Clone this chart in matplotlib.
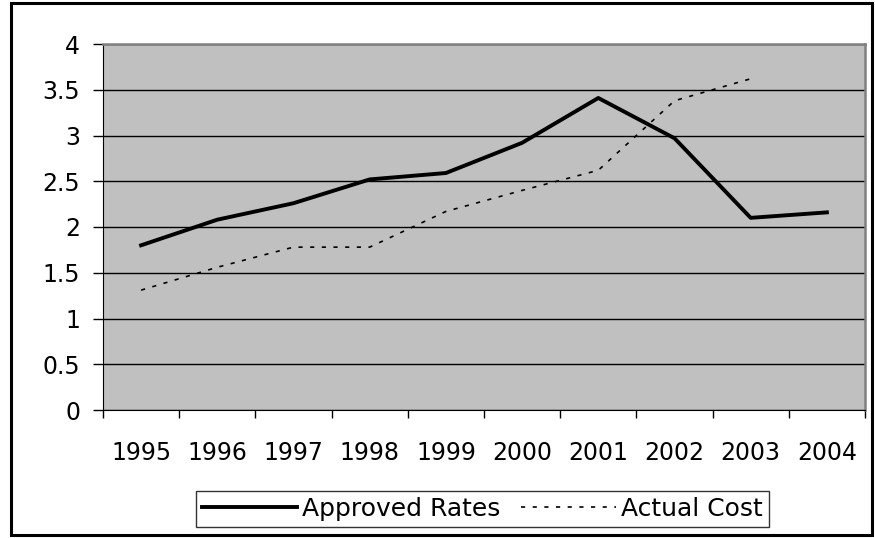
import matplotlib.pyplot as plt
from matplotlib.patches import Rectangle
import numpy as np

# 자료
years = ['1995', '1996', '1997', '1998', '1999', '2000', '2001', '2002', '2003', '2004']
approved_rates = [1.80, 2.08, 2.26, 2.52, 2.59, 2.92, 3.41, 2.97, 2.10, 2.16]
actual_cost = [1.31, 1.56, 1.78, 1.78, 2.17, 2.40, 2.62, 3.38, 3.62]
y_ticks = [0, 0.5, 1, 1.5, 2, 2.5, 3, 3.5, 4]

plt.rcParams['font.family'] = ['DejaVu Sans']

W, H = 875, 538
fig = plt.figure(figsize=(W / 100, H / 100), dpi=100)

# 바깥 테두리
fig.patches.append(Rectangle((11 / W, 3 / H), (872 - 11) / W, (535 - 3) / H,
                             transform=fig.transFigure, fill=False,
                             edgecolor='black', linewidth=2.2))

ax = fig.add_axes([103 / W, 1 - 410 / H, (865 - 103) / W, (410 - 44) / H])
ax.set_facecolor('#C0C0C0')

x = np.arange(len(years))
ax.plot(x, approved_rates, color='black', linewidth=2.8,
        label='Approved Rates', zorder=3)
ax.plot(x[:len(actual_cost)], actual_cost, color='black', linewidth=1.2,
        linestyle=(0, (2.5, 4.5)), label='Actual Cost', zorder=3)

ax.set_xlim(-0.5, len(years) - 0.5)
ax.set_ylim(0, 4)
ax.set_yticks(y_ticks)
ax.set_yticklabels([f'{v:g}' for v in y_ticks])
ax.set_xticks(x)
ax.set_xticklabels(years)
ax.set_xticks(np.arange(-0.5, len(years)), minor=True)
ax.tick_params(axis='x', which='major', length=0, pad=22, labelsize=17)
ax.tick_params(axis='x', which='minor', length=6, width=1, direction='out')
ax.tick_params(axis='y', length=7.5, width=1, labelsize=17, pad=9)
ax.grid(axis='y', color='black', linewidth=1)
ax.set_axisbelow(True)

# 축 스타일
ax.spines['top'].set_color('#808080')
ax.spines['right'].set_color('#808080')
ax.spines['top'].set_linewidth(1.8)
ax.spines['right'].set_linewidth(1.8)
ax.spines['left'].set_color('black')
ax.spines['bottom'].set_color('black')

leg = fig.legend(loc='center', bbox_to_anchor=(482.5 / W, 1 - 509 / H),
                 ncol=2, frameon=True, fancybox=False, fontsize=18,
                 handlelength=3.8, handletextpad=0.2, columnspacing=0.8,
                 borderpad=0.25, borderaxespad=0)
leg.get_frame().set_edgecolor('black')
leg.get_frame().set_linewidth(1)

fig.savefig('out.png', dpi=100)
